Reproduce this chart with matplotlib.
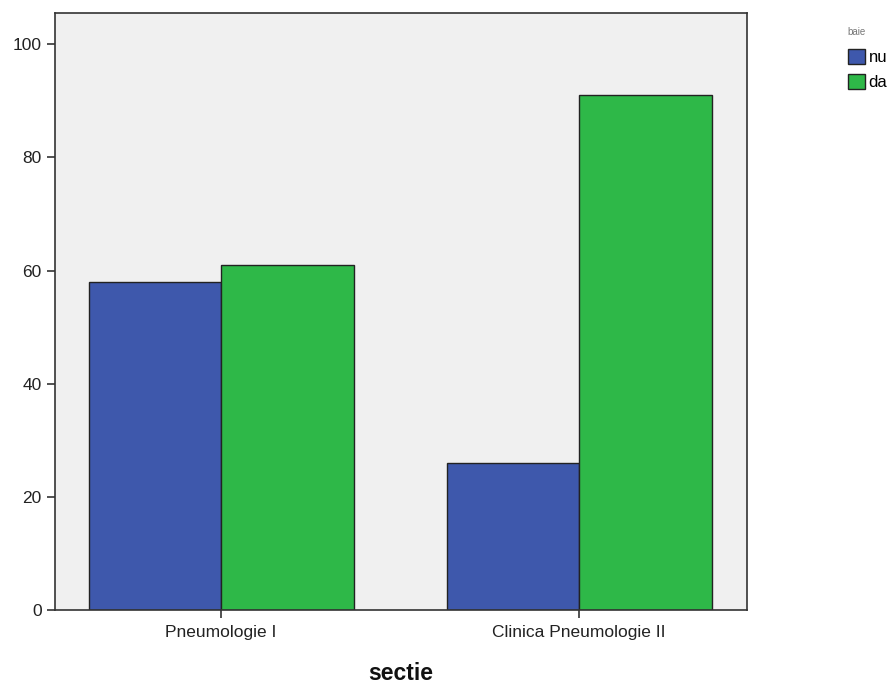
import numpy as np
import matplotlib
matplotlib.use("Agg")
from matplotlib import pyplot as plt
from matplotlib.patches import Patch

plt.rcParams['font.family'] = ['Liberation Sans', 'DejaVu Sans']

categories = ['Pneumologie I', 'Clinica Pneumologie II']
series = ['nu', 'da']
nu_vals = [58, 26]
da_vals = [61, 91]
yticks = [0, 20, 40, 60, 80, 100]

colors = {'nu': '#3e58ac', 'da': '#2eb848'}

fig = plt.figure(figsize=(8.96, 6.88), dpi=100)
ax = fig.add_axes([0.0614, 0.1134, 0.7723, 0.8676])
ax.set_facecolor('#f0f0f0')

x = np.arange(len(categories))
w = 0.37
ax.bar(x - w/2, nu_vals, w, color=colors['nu'], edgecolor='#222222', linewidth=1)
ax.bar(x + w/2, da_vals, w, color=colors['da'], edgecolor='#222222', linewidth=1)

ax.set_xlim(-0.464, 1.469)
ax.set_ylim(0, 105.5)
ax.set_yticks(yticks)
ax.set_xticks(x)
ax.set_xticklabels(categories)
ax.tick_params(axis='both', labelsize=12.5, color='#333333', width=1.2, length=6,
               labelcolor='#222222')
ax.tick_params(axis='x', pad=5)
for s in ax.spines.values():
    s.set_color('#333333')
    s.set_linewidth(1.2)

ax.set_xlabel('sectie', fontsize=16.5, fontweight='bold', labelpad=16, color='#111111')

# legend: title drawn separately to get the wider gap
fig.text(0.946, 0.953, 'baie', fontsize=7, color='#777777', ha='left', va='center')
handles = [Patch(facecolor=colors[s], edgecolor='#222222', label=s) for s in series]
leg = fig.legend(handles=handles, loc='upper left',
                 bbox_to_anchor=(0.946, 0.929), frameon=False, fontsize=12,
                 handlelength=1.05, handleheight=1.0,
                 handletextpad=0.2, labelspacing=0.55, borderpad=0, borderaxespad=0)

plt.savefig('out.png', dpi=100)
